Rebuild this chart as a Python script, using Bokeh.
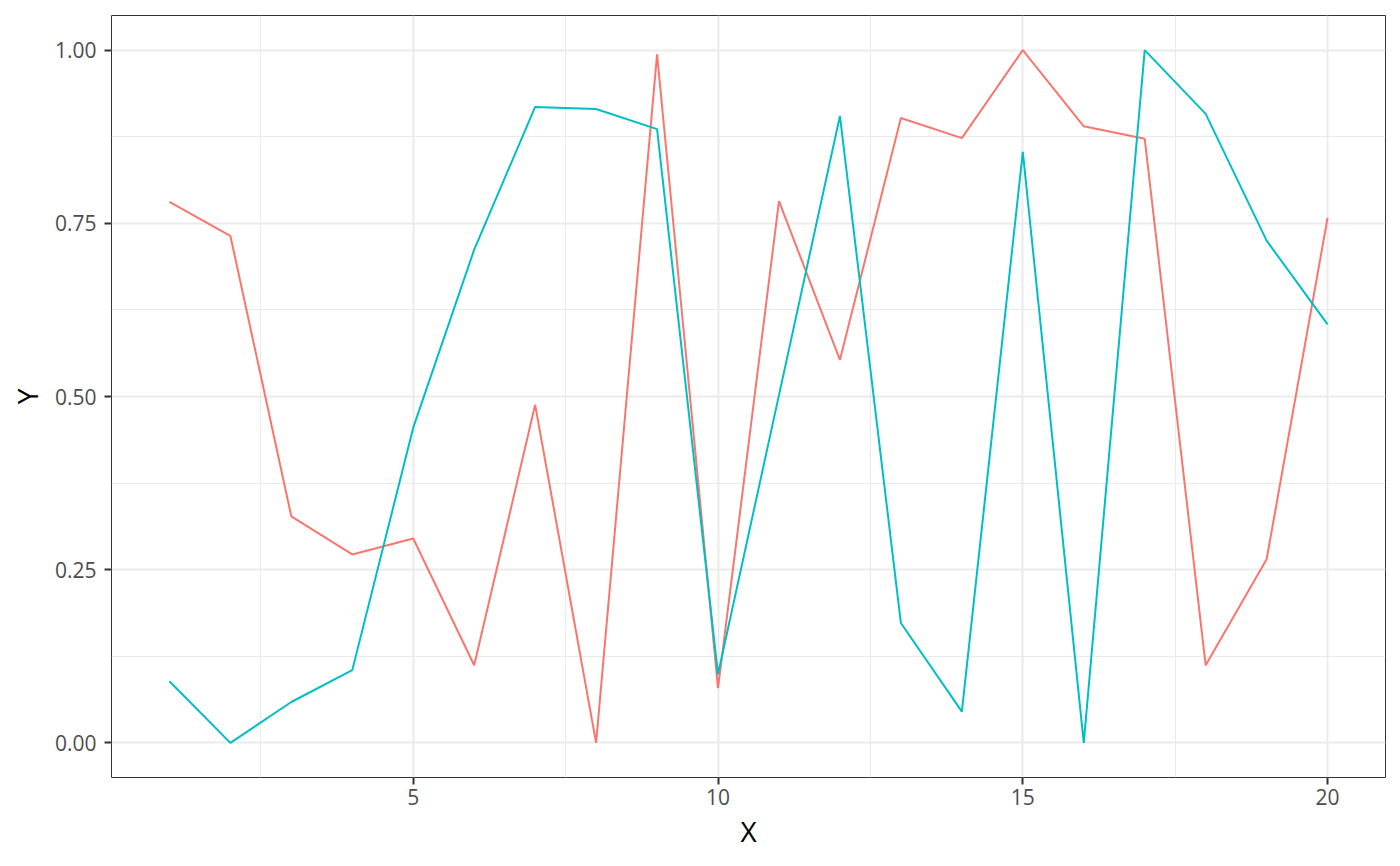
from bokeh.plotting import figure
from bokeh.models import Range1d, FixedTicker, NumeralTickFormatter
from bokeh.embed import file_html
from bokeh.resources import INLINE

x_values = list(range(1, 21))
red_values = [0.781, 0.732, 0.327, 0.272, 0.295, 0.112, 0.488, 0.0, 0.994, 0.079,
              0.782, 0.553, 0.902, 0.873, 1.0, 0.890, 0.872, 0.112, 0.265, 0.758]
cyan_values = [0.089, 0.0, 0.059, 0.105, 0.455, 0.712, 0.918, 0.915, 0.886, 0.099,
               0.502, 0.905, 0.173, 0.045, 0.853, 0.0, 1.0, 0.908, 0.725, 0.604]
x_ticks = [5, 10, 15, 20]
x_minor = [2.5, 7.5, 12.5, 17.5]
y_ticks = [0.0, 0.25, 0.5, 0.75, 1.0]
y_minor = [0.125, 0.375, 0.625, 0.875]

FONT = "Open Sans"

p = figure(width=1392, height=858, output_backend="svg", toolbar_location=None,
           x_range=Range1d(0.05, 20.95), y_range=Range1d(-0.05, 1.05),
           min_border_left=111, min_border_right=7, min_border_top=15, min_border_bottom=81)

p.line(x_values, red_values, line_color="#F8766D", line_width=2)
p.line(x_values, cyan_values, line_color="#00BFC4", line_width=2)

p.xaxis.ticker = FixedTicker(ticks=x_ticks, minor_ticks=x_minor)
p.yaxis.ticker = FixedTicker(ticks=y_ticks, minor_ticks=y_minor)
p.yaxis.formatter = NumeralTickFormatter(format="0.00")

for ax in (p.xaxis, p.yaxis):
    ax.axis_line_color = None
    ax.major_tick_line_color = "#333333"
    ax.major_tick_line_width = 2
    ax.major_tick_out = 7
    ax.major_tick_in = 0
    ax.minor_tick_line_color = None
    ax.major_label_text_font = FONT
    ax.major_label_text_font_size = "21px"
    ax.major_label_text_color = "#4D4D4D"
    ax.axis_label_text_font = FONT
    ax.axis_label_text_font_size = "28px"
    ax.axis_label_text_font_style = "normal"
    ax.axis_label_text_color = "#000000"

p.xaxis.axis_label = "X"
p.yaxis.axis_label = "Y"
p.xaxis.major_label_standoff = 4
p.yaxis.major_label_standoff = 8
p.xaxis.axis_label_standoff = 4
p.yaxis.axis_label_standoff = 6

p.xgrid.grid_line_color = "#EBEBEB"
p.xgrid.grid_line_width = 2
p.ygrid.grid_line_color = "#EBEBEB"
p.ygrid.grid_line_width = 2
p.xgrid.minor_grid_line_color = "#EBEBEB"
p.xgrid.minor_grid_line_width = 1
p.ygrid.minor_grid_line_color = "#EBEBEB"
p.ygrid.minor_grid_line_width = 1

p.outline_line_color = "#333333"
p.outline_line_width = 1
p.background_fill_color = "white"
p.border_fill_color = "white"

open("out.html", "w").write(file_html(p, INLINE))
